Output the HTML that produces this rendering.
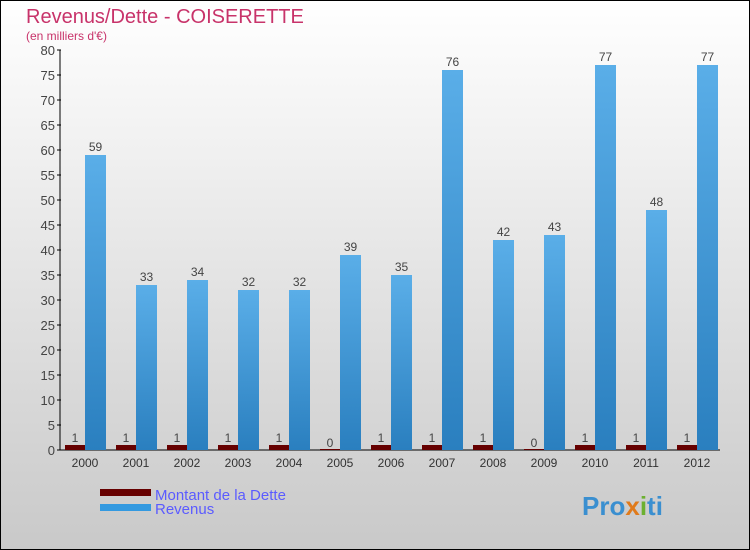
<!DOCTYPE html>
<html><head><meta charset="utf-8"><style>
body{margin:0}
svg{display:block;font-family:"Liberation Sans",sans-serif}
</style></head><body>
<svg id="c" width="750" height="550">
<defs>
<linearGradient id="bg" x1="0" y1="0" x2="0" y2="1"><stop offset="0" stop-color="#ffffff"/><stop offset="1" stop-color="#c9c9c9"/></linearGradient>
<linearGradient id="rv" x1="0" y1="0" x2="0" y2="1"><stop offset="0" stop-color="#5aaee8"/><stop offset="1" stop-color="#2a7fbf"/></linearGradient>
</defs>
<rect x="0.5" y="0.5" width="749" height="549" fill="url(#bg)" stroke="#000"/>
<text x="26" y="23" font-size="20" fill="#c8336a">Revenus/Dette - COISERETTE</text>
<text x="26" y="40" font-size="12" fill="#c8336a">(en milliers d'€)</text>
<g id="plot"></g>
<g>
<rect x="100" y="489" width="51" height="7" fill="#660000"/>
<text x="155" y="500" font-size="15" fill="#5b5bff">Montant de la Dette</text>
<rect x="100" y="504" width="51" height="7" fill="#3399e0"/>
<text x="155" y="514" font-size="15" fill="#5b5bff">Revenus</text>
</g>
<text x="582" y="515" font-size="26" font-weight="bold" fill="#3a8fd0">Pro<tspan fill="#e07a1a">x</tspan><tspan fill="#6cb030">i</tspan>ti</text>
</svg>
<script>
const years=["2000","2001","2002","2003","2004","2005","2006","2007","2008","2009","2010","2011","2012"];
const dette=[1,1,1,1,1,0,1,1,1,0,1,1,1];
const revenus=[59,33,34,32,32,39,35,76,42,43,77,48,77];
const yTicks=[0,5,10,15,20,25,30,35,40,45,50,55,60,65,70,75,80];
const NS="http://www.w3.org/2000/svg";
const g=document.getElementById('plot');
const y=v=>450-v*5;
const x=i=>85+i*51;
function mk(t,a){const e=document.createElementNS(NS,t);for(const k in a)e.setAttribute(k,a[k]);g.appendChild(e);return e;}
const ax=mk('line',{x1:60,y1:50,x2:60,y2:450,stroke:'#000'});


const bx=mk('line',{x1:60,y1:450,x2:720,y2:450,stroke:'#000'});


yTicks.forEach(v=>{
 const t=mk('line',{x1:57,x2:61,y1:y(v),y2:y(v),stroke:'#000'});
 
 
 const l=mk('text',{x:55,y:y(v)+5,'font-size':13,fill:'#444','text-anchor':'end'});
 l.textContent=v;
 
 
});
years.forEach((yr,i)=>{
 const l=mk('text',{x:x(i),y:467,'font-size':12,fill:'#333','text-anchor':'middle'});
 l.textContent=yr;
 
 
 const d=mk('rect',{x:x(i)-20,y:y(dette[i])-(dette[i]?0:1),width:20,height:Math.max(1,dette[i]*5),fill:'#660000'});
 
 
 const dl=mk('text',{x:x(i)-10,y:y(dette[i])-3,'font-size':12,fill:'#444','text-anchor':'middle'});
 dl.textContent=dette[i];
 
 
 const r=mk('rect',{x:x(i),y:y(revenus[i]),width:21,height:revenus[i]*5,fill:'url(#rv)'});
 
 
 const rl=mk('text',{x:x(i)+10.5,y:y(revenus[i])-4,'font-size':12,fill:'#444','text-anchor':'middle'});
 rl.textContent=revenus[i];
 
 
});
</script>
</body></html>
